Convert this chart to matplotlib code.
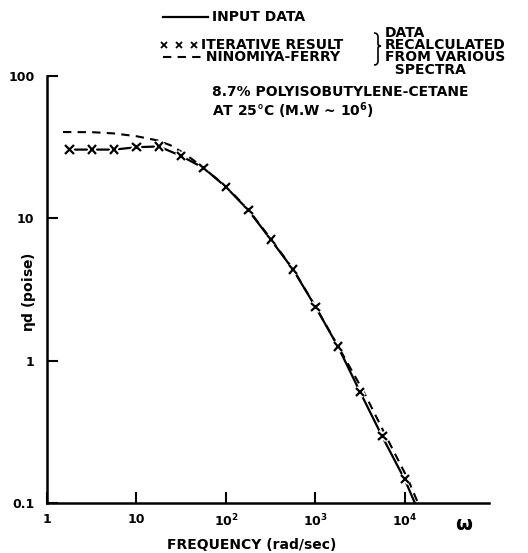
"""Dynamic viscosity of 8.7% polyisobutylene-cetane vs frequency."""
import matplotlib

matplotlib.use("Agg")
import matplotlib.pyplot as plt
import matplotlib.patheffects as pe
from matplotlib.lines import Line2D
from matplotlib.path import Path
from matplotlib.patches import PathPatch

# iterative result (x marks)
iter_w = [1.78, 3.16, 5.62, 10, 17.8, 31.6, 56.2, 100, 178, 316, 562,
          1000, 1780, 3160, 5620, 10000]
iter_eta = [30.4, 30.4, 30.4, 31.6, 32.0, 27.4, 22.6, 16.6, 11.4, 7.1, 4.37,
            2.39, 1.26, 0.60, 0.295, 0.147]

# input data (solid)
input_w = [1.78, 3.16, 5.62, 10, 17.8, 31.6, 56.2, 100, 178, 316, 562,
           1000, 1780, 3160, 5620, 10000, 12900]
input_eta = [30.4, 30.4, 30.4, 31.6, 32.0, 27.4, 22.6, 16.6, 11.4, 7.1, 4.37,
             2.39, 1.26, 0.60, 0.29, 0.145, 0.1]

# Ninomiya-Ferry (dashed)
nf_w = [1.51, 3.18, 5.6, 10.1, 17.4, 24, 31.4, 42, 55, 100, 178, 316, 562,
        1000, 1780, 3480, 6130, 10800, 13970]
nf_eta = [40.4, 40.3, 39.5, 37.7, 35.2, 32.6, 29.5, 26.0, 22.8, 16.8, 11.5,
          7.2, 4.4, 2.4, 1.27, 0.60, 0.295, 0.147, 0.1]

xticks = [1, 10, 100, 1000, 10000]
xticklabels = ["1", "10", "10$^2$", "10$^3$", "10$^4$"]
yticks = [0.1, 1, 10, 100]
yticklabels = ["0.1", "1", "10", "100"]

W, H = 528, 553
plt.rcParams["font.family"] = ["DejaVu Sans"]
plt.rcParams["font.weight"] = "bold"
plt.rcParams["mathtext.default"] = "bf"

fig = plt.figure(figsize=(W / 100, H / 100), dpi=100)
ax = fig.add_axes([47 / W, 1 - 503 / H, (489 - 47) / W, (503 - 76) / H])

ink = "black"
ax.plot(input_w, input_eta, color=ink, lw=1.6, solid_capstyle="butt")
ax.plot(nf_w, nf_eta, color=ink, lw=1.5, linestyle=(0, (4, 3)))
ax.plot(iter_w, iter_eta, linestyle="none", marker="x", ms=6, mew=1.6,
        color=ink, path_effects=[pe.Stroke(linewidth=4, foreground="white"),
                                 pe.Normal()])

ax.set_xscale("log")
ax.set_yscale("log")
ax.set_xlim(1, 86900)
ax.set_ylim(0.1, 100)
ax.minorticks_off()
ax.set_xticks(xticks)
ax.set_xticklabels(xticklabels)
ax.set_yticks(yticks)
ax.set_yticklabels(yticklabels)
ax.tick_params(direction="in", length=8, width=1.5, labelsize=9, pad=7)
ax.tick_params(axis="y", pad=9)
for s in ("top", "right"):
    ax.spines[s].set_visible(False)
for s in ("left", "bottom"):
    ax.spines[s].set_linewidth(1.8)

ax.set_xlabel("FREQUENCY (rad/sec)", fontsize=10, fontweight="bold")
ax.xaxis.set_label_coords((252 - 47) / 442, -(538 - 503) / 427)
ax.set_ylabel("$\\eta$d (poise)", fontsize=10, fontweight="bold")
ax.yaxis.set_label_coords((38 - 47) / 442, (503 - 292) / 427)
fig.text(464 / W, 1 - 525 / H, "$\\omega$", fontsize=14, ha="center", va="center")


def px(x, y):
    return x / W, 1 - y / H


# legend block
fs = 10
fig.add_artist(Line2D([163 / W, 208 / W], [1 - 17 / H] * 2, color=ink, lw=1.6))
fig.text(*px(212, 17), "INPUT DATA", fontsize=fs, va="center")
fig.add_artist(Line2D([164 / W, 179 / W, 194 / W], [1 - 45 / H] * 3,
                      linestyle="none", marker="x", ms=5, mew=1.3, color=ink))
fig.add_artist(Line2D([163 / W, 205 / W], [1 - 57 / H] * 2, color=ink, lw=1.5,
                      linestyle=(0, (4, 3))))
fig.text(*px(201, 38), "ITERATIVE RESULT\n NINOMIYA-FERRY", fontsize=fs,
         va="top", linespacing=0.84)

# brace
bx, top, bot, mid = 377, 33, 65, 46
verts = [px(bx - 3, top), px(bx + 1, top), px(bx + 1, top + 4),
         px(bx + 1, mid - 2), px(bx + 1, mid), px(bx + 4, mid),
         px(bx + 1, mid), px(bx + 1, mid + 2),
         px(bx + 1, bot - 4), px(bx + 1, bot), px(bx - 3, bot)]
codes = [Path.MOVETO, Path.CURVE3, Path.CURVE3, Path.LINETO, Path.CURVE3,
         Path.CURVE3, Path.CURVE3, Path.CURVE3, Path.LINETO, Path.CURVE3,
         Path.CURVE3]
fig.add_artist(PathPatch(Path(verts, codes), transform=fig.transFigure,
                         fill=False, lw=1.2, color=ink))

fig.text(*px(385, 26), "DATA\nRECALCULATED\nFROM VARIOUS\n  SPECTRA",
         fontsize=fs, va="top", linespacing=0.84)
fig.text(*px(212, 85), "8.7% POLYISOBUTYLENE-CETANE\nAT 25°C (M.W ~ 10$^6$)",
         fontsize=fs, va="top", linespacing=1.08)

fig.savefig("out.png", dpi=100)
